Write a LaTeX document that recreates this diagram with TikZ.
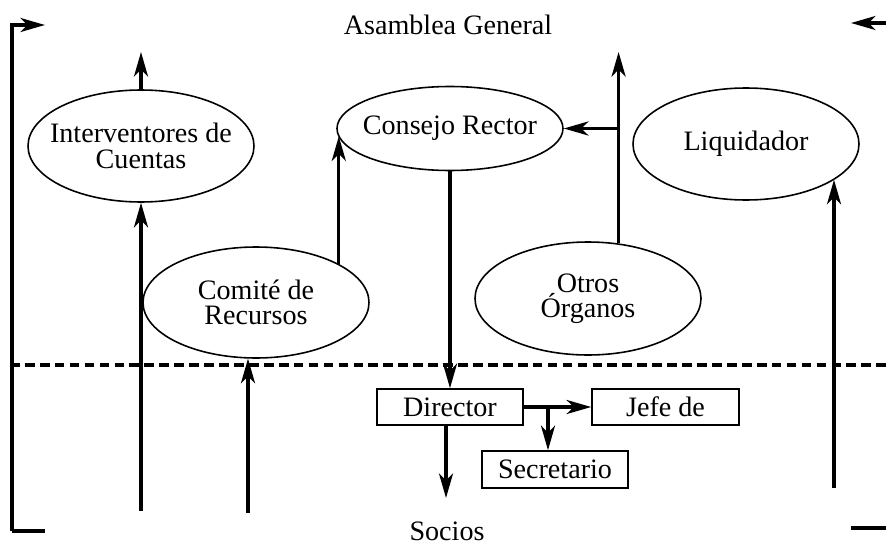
\documentclass[tikz,border=0pt]{standalone}
\usepackage{fontspec}
\setmainfont{Liberation Serif}
\usepackage{tikz}
\usetikzlibrary{shapes.geometric,arrows.meta,calc}

\begin{document}
\begin{tikzpicture}[
	>={Stealth[length=14pt,width=8pt,inset=4pt]},
	font=\fontsize{16}{14.5}\selectfont,
	organo/.style={draw,ellipse,line width=.9pt,inner sep=-10pt,
		minimum width=4.52cm,minimum height=2.24cm,align=center},
	puesto/.style={draw,rectangle,line width=.9pt,inner sep=0pt,
		minimum width=2.92cm,minimum height=.72cm},
	flecha/.style={->,line width=1.9pt},
	]
	
	\useasboundingbox (0,0) rectangle (17.72,10.9);
	
	\node (asam) at (8.96,10.4) {Asamblea General};
	\node[anchor=base] (soc) at (8.94,.1) {Socios};
	
	\node[organo] (int) at (2.82,7.98) {Interventores de\\Cuentas};
	\node[organo,minimum height=1.68cm] (cons) at (9,8.33) {Consejo Rector};
	\node[organo] (liq) at (14.92,8.02) {Liquidador};
	\node[organo,minimum height=2.22cm] (com) at (5.12,4.85) {Comité de\\Recursos};
	\node[organo,minimum height=2.26cm] (otr) at (11.76,4.93) {Otros\\Órganos};
	
	\node[puesto] (dir) at (9,2.76) {Director};
	\node[puesto,minimum width=2.94cm] (jefe) at (13.31,2.76) {Jefe de};
	\node[puesto,minimum height=.74cm] (sec) at (11.1,1.51) {Secretario};
	
	\coordinate (izqA) at (.24,10.4);
	\coordinate (izqB) at (.24,.28);
	\coordinate (derA) at (17.72,10.44);
	\coordinate (derB) at (17.02,.34);
	\coordinate (intA) at (2.82,9.86);
	\coordinate (intB) at (2.82,.68);
	\coordinate (comB) at (4.96,.64);
	\coordinate (otrA) at (12.36,9.86);
	\coordinate (liqB) at (16.68,1.14);
	\coordinate (dirB) at (8.92,.94);
	\coordinate (br) at (10.96,2.76);
	
	% corchetes de los lados
	\draw[flecha] (izqB) -- (izqA) -- ++(.66,0);
	\draw[line width=1.9pt] (izqB) -- ++(.66,0);
	\draw[flecha] (derA) -- ++(-.7,0);
	\draw[line width=1.9pt] (derB) -- ++(.7,0);
	
	% linea de separacion
	\draw[line width=1.8pt,dash pattern=on 5.5pt off 3pt] (.2,3.6) -- (17.72,3.6);
	
	\draw[flecha] (int.north) -- (intA);
	\draw[flecha] (intB) -- (int.south);
	\draw[flecha] (comB) -- (comB |- com.-98);
	\draw[flecha] (com.25) -- (com.25 |- cons.184);
	\draw[flecha] (otr.61) -- (otr.61 |- otrA);
	\draw[flecha] (otr.61 |- cons.east) -- (cons.east);
	\draw[flecha] (liqB) -- (liqB |- liq.-22);
	
	\draw[flecha] (cons.south) -- (dir.north);
	\draw[flecha] (dir.south -| dirB) -- (dirB);
	\draw[flecha] (dir.east) -- (jefe.west);
	\draw[flecha] (br) -- (br |- sec.north);
\end{tikzpicture}
\end{document}
